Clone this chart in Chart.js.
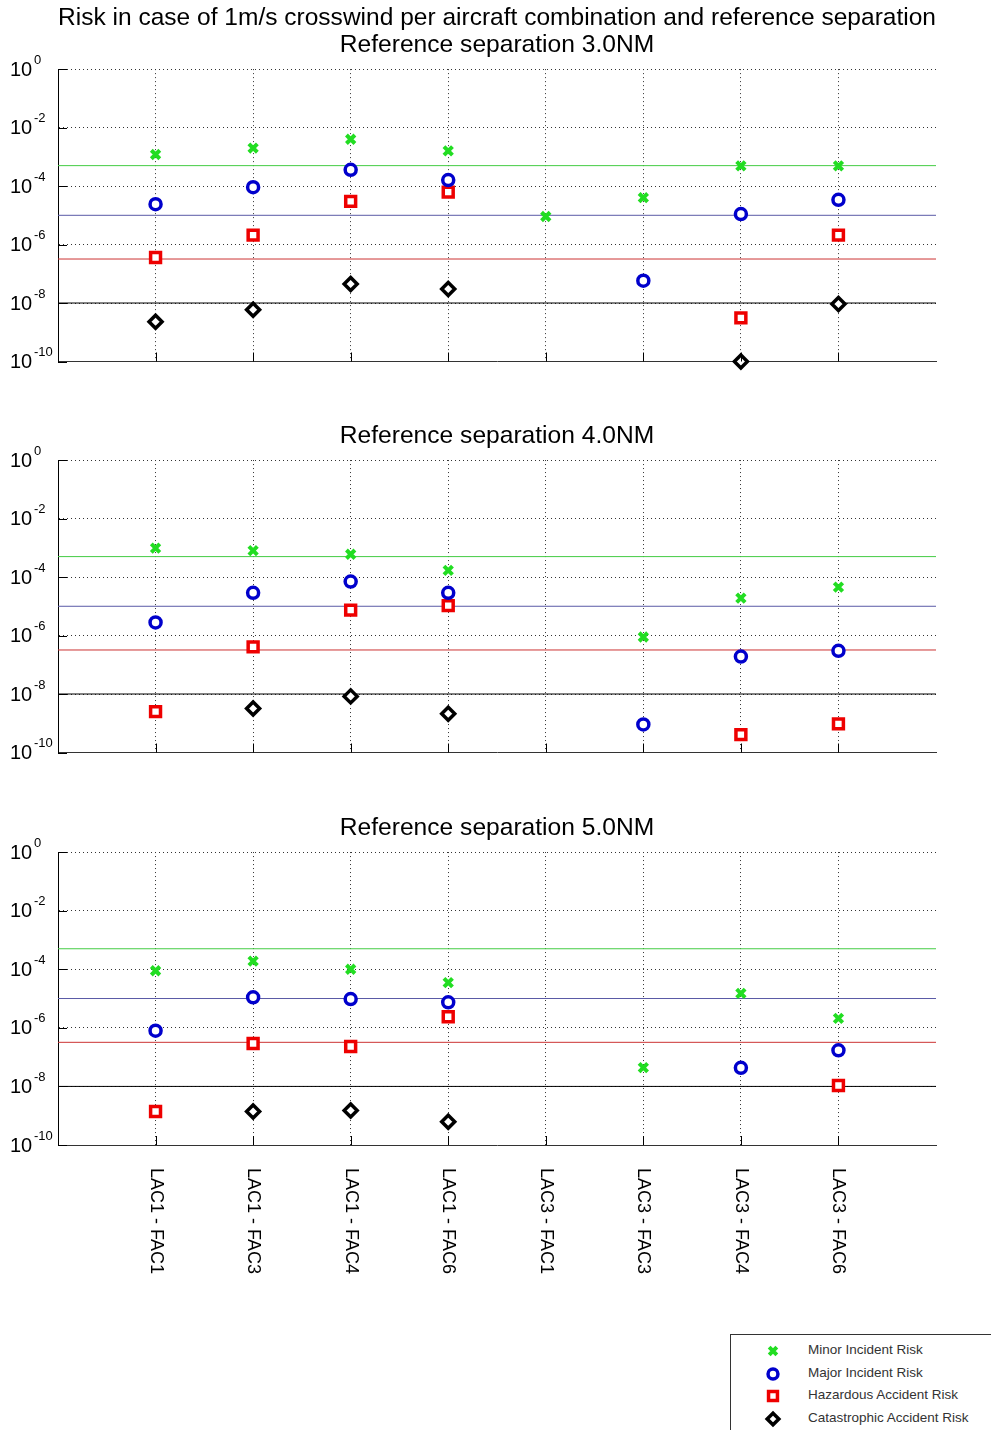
<!DOCTYPE html>
<html>
<head>
<meta charset="utf-8">
<title>Risk per aircraft combination</title>
<script src="https://cdn.jsdelivr.net/npm/chart.js@4/dist/chart.umd.min.js"></script>
<style>
  body { margin: 0; background: #fff; width: 991px; height: 1430px; position: relative; overflow: hidden;
         font-family: "Liberation Sans", Arial, sans-serif; }
  .panel { position: absolute; left: 0; width: 991px; }
  #legend { position: absolute; left: 730px; top: 1334px; width: 270px; height: 110px;
            border: 1px solid #333; background: #fff; }
  .row { position: absolute; left: 0; height: 20px; font-size: 13.5px; color: #333; }
  .row canvas { position: absolute; left: 31px; top: 0; }
  .row span { position: absolute; left: 77px; top: 2px; white-space: nowrap; }
</style>
</head>
<body>
<div class="panel" style="top:0;height:372px"><canvas id="c1"></canvas></div>
<div class="panel" style="top:410px;height:353px"><canvas id="c2"></canvas></div>
<div class="panel" style="top:802px;height:498px"><canvas id="c3"></canvas></div>
<div id="legend"></div>

<script>
// x categories and log ticks
const categories = ['LAC1 - FAC1', 'LAC1 - FAC3', 'LAC1 - FAC4', 'LAC1 - FAC6',
                    'LAC3 - FAC1', 'LAC3 - FAC3', 'LAC3 - FAC4', 'LAC3 - FAC6'];
const yTicks = [1e-10, 1e-8, 1e-6, 1e-4, 1e-2, 1];

// acceptable risk levels (minor, major, hazardous, catastrophic)
const thresholds = [5e-4, 1e-5, 3.2e-7, 1e-8];

// 3.0 NM
const minor30  = [1.2e-3, 2.0e-3, 4.0e-3, 1.6e-3, 9.1e-6, 4.0e-5, 4.9e-4, 4.9e-4];
const major30  = [2.4e-5, 9.2e-5, 3.6e-4, 1.6e-4, null, 5.8e-8, 1.1e-5, 3.4e-5];
const hazard30 = [3.6e-7, 2.1e-6, 3.0e-5, 6.2e-5, null, null, 3.1e-9, 2.1e-6];
const catas30  = [2.3e-9, 5.9e-9, 4.5e-8, 3.0e-8, null, null, 1.0e-10, 9.3e-9];

// 4.0 NM
const minor40  = [9.7e-4, 8.0e-4, 6.0e-4, 1.7e-4, null, 8.9e-7, 1.9e-5, 4.5e-5];
const major40  = [2.8e-6, 2.9e-5, 7.0e-5, 2.9e-5, null, 9.1e-10, 1.9e-7, 3.0e-7];
const hazard40 = [2.5e-9, 4.1e-7, 7.4e-6, 1.05e-5, null, null, 4.1e-10, 9.5e-10];
const catas40  = [null, 3.2e-9, 8.3e-9, 2.1e-9, null, null, null, null];

// 5.0 NM
const minor50  = [8.9e-5, 1.9e-4, 1.0e-4, 3.5e-5, null, 4.4e-8, 1.5e-5, 2.1e-6];
const major50  = [8.0e-7, 1.1e-5, 9.6e-6, 7.4e-6, null, null, 4.3e-8, 1.7e-7];
const hazard50 = [1.4e-9, 2.9e-7, 2.3e-7, 2.4e-6, null, null, null, 1.07e-8];
const catas50  = [null, 1.4e-9, 1.5e-9, 6.2e-10, null, null, null, null];

const FONT = '"Liberation Sans", Arial, sans-serif';

const seriesStyle = [
  { label: 'Minor Incident Risk',          pointStyle: 'crossRot', radius: 6,   width: 4,   color: '#22dd22', line: '#44cc44' },
  { label: 'Major Incident Risk',          pointStyle: 'circle',   radius: 5.5, width: 3.5, color: '#0000cc', line: '#5a5aa6' },
  { label: 'Hazardous Accident Risk',      pointStyle: 'rect',     radius: 7,   width: 3.5, color: '#ee0000', line: '#cc3333' },
  { label: 'Catastrophic Accident Risk',   pointStyle: 'rectRot',  radius: 6.5, width: 3.5, color: '#000000', line: '#000000' }
];

const toPoints = arr => arr.map((v, i) => ({ x: i + 1, y: v })).filter(p => p.y !== null);

// draws inward ticks, 10^n labels and (optionally) rotated category labels
const axisDecor = {
  id: 'axisDecor',
  afterDraw(chart, args, opts) {
    const { ctx, chartArea: a, scales: { x, y } } = chart;
    ctx.save();
    ctx.strokeStyle = '#000';
    ctx.lineWidth = 1;
    ctx.beginPath();
    x.ticks.forEach(t => {
      const px = Math.round(x.getPixelForValue(t.value)) + 0.5;
      ctx.moveTo(px, a.bottom); ctx.lineTo(px, a.bottom - 9);
    });
    y.ticks.forEach(t => {
      const py = Math.round(y.getPixelForValue(t.value)) + 0.5;
      ctx.moveTo(a.left, py); ctx.lineTo(a.left + 9, py);
    });
    ctx.stroke();

    ctx.fillStyle = '#000';
    ctx.textAlign = 'left';
    ctx.textBaseline = 'middle';
    y.ticks.forEach(t => {
      const py = y.getPixelForValue(t.value);
      const exp = Math.round(Math.log10(t.value));
      ctx.font = '20px ' + FONT;
      ctx.fillText('10', 10, py + 1);
      ctx.font = '13px ' + FONT;
      ctx.fillText(String(exp), 34, py - 9);
    });

    if (opts.xLabels) {
      ctx.font = '18px ' + FONT;
      x.ticks.forEach(t => {
        ctx.save();
        ctx.translate(x.getPixelForValue(t.value), a.bottom + 23);
        ctx.rotate(Math.PI / 2);
        ctx.fillText(categories[t.value - 1], 0, 0);
        ctx.restore();
      });
    }
    ctx.restore();
  }
};

function makeChart(id, title, series, titlePad, xLabels, bottomPad) {
  const datasets = [];
  seriesStyle.forEach((s, k) => {
    datasets.push({
      type: 'scatter',
      label: s.label,
      data: toPoints(series[k]),
      pointStyle: s.pointStyle,
      pointRadius: s.radius,
      pointHoverRadius: s.radius,
      pointBorderWidth: s.width,
      pointBorderColor: s.color,
      pointBackgroundColor: '#ffffff',
      borderColor: s.color,
      backgroundColor: '#ffffff',
      clip: false,
      order: 1
    });
  });
  thresholds.forEach((t, k) => {
    datasets.push({
      type: 'line',
      label: 'limit',
      data: [{ x: 0, y: t }, { x: categories.length + 1, y: t }],
      borderColor: seriesStyle[k].line,
      borderWidth: 1,
      pointRadius: 0,
      order: 2
    });
  });

  return new Chart(document.getElementById(id), {
    type: 'scatter',
    data: { datasets },
    options: {
      responsive: true,
      maintainAspectRatio: false,
      animation: false,
      events: [],
      layout: { padding: { left: 58, right: 55, top: 0, bottom: bottomPad } },
      plugins: {
        legend: { display: false },
        tooltip: { enabled: false },
        title: {
          display: true,
          text: title,
          color: '#000',
          font: { family: FONT, size: 24.6, weight: 'normal', lineHeight: 1.1 },
          padding: titlePad
        },
        axisDecor: { xLabels }
      },
      scales: {
        x: {
          type: 'linear',
          min: 0,
          max: categories.length + 1,
          afterBuildTicks: sc => { sc.ticks = categories.map((c, i) => ({ value: i + 1 })); },
          ticks: { display: false },
          grid: { color: '#333', lineWidth: 1, drawTicks: false },
          border: { display: true, color: '#333', width: 1, dash: [1, 3] }
        },
        y: {
          type: 'logarithmic',
          min: 1e-10,
          max: 1,
          afterBuildTicks: sc => { sc.ticks = yTicks.map(v => ({ value: v })); },
          ticks: { display: false },
          grid: { color: '#333', lineWidth: 1, drawTicks: false },
          border: { display: true, color: '#000', width: 1, dash: [1, 3] }
        }
      }
    },
    plugins: [axisDecor]
  });
}

makeChart('c1',
  ['Risk in case of 1m/s crosswind per aircraft combination and reference separation', 'Reference separation 3.0NM'],
  [minor30, major30, hazard30, catas30], { top: 5, bottom: 10 }, false, 10);
makeChart('c2', 'Reference separation 4.0NM',
  [minor40, major40, hazard40, catas40], { top: 13, bottom: 10 }, false, 10);
const chart3 = makeChart('c3', 'Reference separation 5.0NM',
  [minor50, major50, hazard50, catas50], { top: 13, bottom: 10 }, true, 155);

// legend box, markers drawn with Chart.js point helper
const legend = document.getElementById('legend');
chart3.data.datasets.filter(d => d.type === 'scatter').forEach((d, i) => {
  const row = document.createElement('div');
  row.className = 'row';
  row.style.top = (5 + i * 22.5) + 'px';
  const cv = document.createElement('canvas');
  cv.width = 22; cv.height = 22;
  const span = document.createElement('span');
  span.textContent = d.label;
  row.appendChild(cv); row.appendChild(span);
  legend.appendChild(row);
  const c = cv.getContext('2d');
  c.lineWidth = d.pointBorderWidth;
  c.strokeStyle = d.pointBorderColor;
  c.fillStyle = '#ffffff';
  if (Chart.helpers && Chart.helpers.drawPoint) {
    Chart.helpers.drawPoint(c, { pointStyle: d.pointStyle, radius: d.pointRadius * 0.9, borderWidth: d.pointBorderWidth, rotation: 0 }, 11, 11);
  }
});
</script>
</body>
</html>
